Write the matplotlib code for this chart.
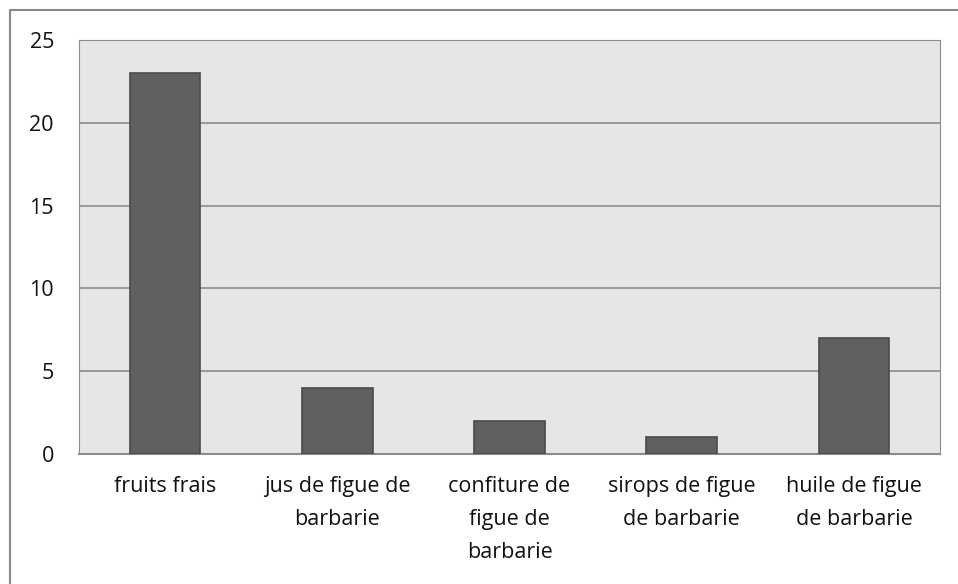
import matplotlib.pyplot as plt
from matplotlib.lines import Line2D

categories = ["fruits frais", "jus de figue de\nbarbarie", "confiture de\nfigue de\nbarbarie",
              "sirops de figue\nde barbarie", "huile de figue\nde barbarie"]
values = [23, 4, 2, 1, 7]

plt.rcParams['font.family'] = ['Open Sans', 'DejaVu Sans']

fig = plt.figure(figsize=(9.58, 5.84), dpi=100)
ax = fig.add_axes([79/958, 130/584, 861/958, 414/584])
ax.set_facecolor('#e6e6e6')

x = range(len(categories))
ax.bar(x, values, width=0.41, color='#606060', edgecolor='#4a4a4a', linewidth=1.2, zorder=3)

ax.set_xlim(-0.5, len(categories) - 0.5)
ax.set_ylim(0, 25)
ax.set_yticks([0, 5, 10, 15, 20, 25])
ax.yaxis.grid(True, color='#8c8c8c', linewidth=1.2, zorder=1)
ax.set_xticks(list(x))
ax.set_xticklabels(categories, fontsize=15.5, linespacing=1.75, va='top', color='#111111')
ax.tick_params(axis='y', labelsize=15.5, length=0, pad=18, labelcolor='#111111')
ax.tick_params(axis='x', length=0, pad=16)
for side in ['top', 'right', 'left']:
    ax.spines[side].set_color('#8c8c8c')
ax.spines['bottom'].set_color('#8c8c8c')
ax.spines['bottom'].set_linewidth(1.5)

# outer chart border (only top and left visible in the crop)
fig.add_artist(Line2D([9.5/958, 9.5/958, 1], [0, 1 - 9.5/584, 1 - 9.5/584],
                      transform=fig.transFigure, color='#888888', linewidth=1.5))

plt.savefig('out.png', dpi=100)
